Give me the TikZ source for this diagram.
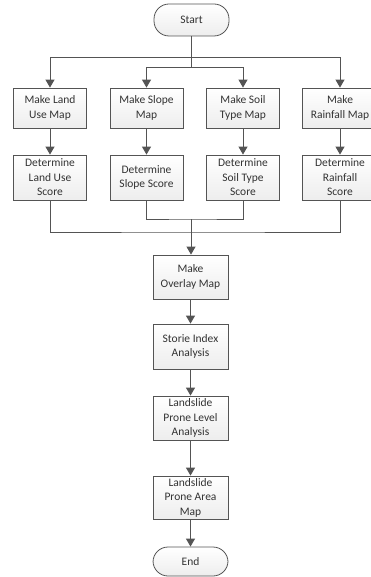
\documentclass[tikz,border=0pt]{standalone}
\usepackage{fontspec}
\setmainfont{Carlito}
\usetikzlibrary{arrows.meta}
\definecolor{linec}{rgb}{0.33,0.33,0.33}
\definecolor{txtc}{rgb}{0.2,0.2,0.2}
\tikzset{
  procbox/.style={draw=linec, line width=0.8pt, top color=white, bottom color=gray!14,
    minimum width=73pt, inner sep=1pt, align=center, text=txtc,
    font=\fontsize{11.5}{14.5}\selectfont},
  termbox/.style={procbox, rounded corners=15pt, minimum width=75pt},
  conn/.style={draw=linec, line width=1pt},
  arr/.style={conn, -{Triangle[length=8pt,width=9pt]}},
}
\begin{document}
\begin{tikzpicture}[x=1pt,y=-1pt]
\useasboundingbox (0,0) rectangle (371,577);
\clip (0,0) rectangle (371,577);
\node[termbox, minimum height=32pt] (start) at (191.5,20) {Start};
\node[procbox, minimum height=40pt] (m1) at (50,108) {Make Land\\Use Map};
\node[procbox, minimum height=40pt] (m2) at (146.5,108) {Make Slope\\Map};
\node[procbox, minimum height=40pt] (m3) at (243,108) {Make Soil\\Type Map};
\node[procbox, minimum height=40pt, minimum width=75pt] (m4) at (340,108) {Make\\Rainfall Map};
\node[procbox, minimum height=45pt] (d1) at (50,177.5) {Determine\\Land Use\\Score};
\node[procbox, minimum height=45pt] (d2) at (146.5,177.5) {Determine\\Slope Score};
\node[procbox, minimum height=45pt] (d3) at (243,177.5) {Determine\\Soil Type\\Score};
\node[procbox, minimum height=45pt, minimum width=75pt] (d4) at (340,177.5) {Determine\\Rainfall\\Score};
\node[procbox, minimum height=44pt, minimum width=75pt] (ov) at (190.5,277) {Make\\Overlay Map};
\node[procbox, minimum height=45pt, minimum width=75pt] (si) at (190.5,346.5) {Storie Index\\Analysis};
\node[procbox, minimum height=44pt, minimum width=75pt] (pl) at (190.5,418) {Landslide\\Prone Level\\Analysis};
\node[procbox, minimum height=43pt, minimum width=75pt] (pa) at (190.5,497.5) {Landslide\\Prone Area\\Map};
\node[termbox, minimum height=29pt] (end) at (190.5,561.5) {End};
% splits from start
\coordinate (s1) at (191,58);
\coordinate (s2) at (191,68);
\draw[conn] (start.south -| s1) -- (s2);
\draw[arr] (s1) -| (m1.north);
\draw[arr] (s1) -| (m4.north);
\draw[arr] (s2) -| (m2.north);
\draw[arr] (s2) -| (m3.north);
% make -> determine
\draw[arr] (m1) -- (d1);
\draw[arr] (m2) -- (d2);
\draw[arr] (m3) -- (d3);
\draw[arr] (m4) -- (d4);
% merges
\coordinate (j1) at (191,219);
\coordinate (j2) at (191,232);
\draw[conn] (d2.south) |- (j1) -| (d3.south);
\draw[conn] (d1.south) |- (j2) -| (d4.south);
\draw[arr] (j1) -- (ov.north -| j1);
% chain
\draw[arr] (ov) -- (si);
\draw[arr] (si) -- (pl);
\draw[arr] (pl) -- (pa);
\draw[arr] (pa) -- (end);
\end{tikzpicture}
\end{document}
